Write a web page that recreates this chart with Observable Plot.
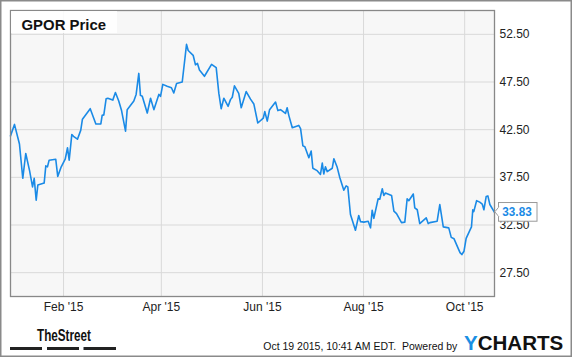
<!DOCTYPE html>
<html><head><meta charset="utf-8">
<script src="https://cdn.jsdelivr.net/npm/d3@7"></script>
<script src="https://cdn.jsdelivr.net/npm/@observablehq/plot@0.6"></script>
<style>
html,body{margin:0;padding:0;background:#fff;}
#chart{width:575px;height:358px;}
</style></head><body><div id="chart"></div>
<script>
// Days since 2015-01-01 and GPOR closing price
const days = [-1,1.4,4.4,6.4,8.2,10.5,12.3,13.3,14.5,15.5,19.3,20.3,21.3,22.3,26.3,27.5,29.6,32.0,33.4,34.4,
  36.0,37.0,39.4,41.4,42.4,47.1,50.5,53.5,54.3,55.3,56.7,57.7,60.7,62.3,64.3,66.0,68.4,69.4,73.4,74.8,
  76.4,77.4,78.5,81.5,83.5,85.5,88.5,89.5,90.9,93.5,96.1,97.5,99.2,102.6,105.2,106.2,109.2,110.6,111.8,113.0,
  116.0,120.3,123.1,124.7,126.1,127.7,130.3,131.7,132.8,134.1,136.7,138.2,141.2,143.8,145.8,148.2,151.5,152.4,153.9,155.3,
  158.9,160.3,161.9,164.9,165.9,166.9,169.0,172.9,174.0,175.4,176.6,179.0,180.4,181.4,184.0,186.0,187.1,188.0,189.0,190.1,
  193.1,194.1,196.1,197.7,200.1,201.5,202.5,204.1,207.1,209.1,210.2,212.2,214.8,216.2,217.2,218.2,220.8,221.8,223.3,224.2,
  225.2,228.9,230.3,231.9,234.9,236.9,238.3,239.3,242.0,242.9,244.4,245.9,249.8,251.0,252.0,256.4,258.0,260.1,263.4,264.9,
  266.6,270.2,271.3,272.6,273.9,277.1,277.9,278.5,280.2,282.1,283.6,284.6,286.0,287.0,288.2,291.0];
const prices = [41.85,43.05,41.0,37.4,40.0,38.2,36.5,37.4,35.1,36.7,36.9,38.7,38.6,39.3,39.4,37.6,38.6,39.4,40.6,39.3,
  42.0,41.8,41.5,42.45,43.6,44.7,43.1,43.1,44.0,44.05,45.75,45.8,45.6,46.4,45.5,44.5,42.35,44.6,45.5,46.2,
  48.4,46.1,46.0,44.25,45.8,44.6,46.2,46.0,47.25,47.05,46.9,46.35,47.35,47.5,51.45,50.8,50.3,49.3,49.45,48.75,
  48.1,49.35,49.0,46.3,44.7,45.8,44.95,45.65,45.9,47.1,46.3,44.8,46.5,45.7,45.2,43.2,43.7,44.4,43.4,44.6,
  45.4,44.5,44.6,44.2,44.8,44.0,42.7,42.95,42.6,40.8,40.7,39.55,40.25,38.45,38.2,37.8,39.0,37.85,38.6,38.1,
  38.45,39.45,38.55,37.45,36.15,36.6,36.5,33.6,31.95,33.5,32.85,32.8,32.9,32.2,34.05,33.2,35.25,35.2,36.3,35.6,
  35.85,35.6,33.95,33.7,32.75,32.8,35.25,35.05,35.75,34.3,34.1,32.65,33.25,32.65,32.75,32.9,34.65,32.3,32.2,31.2,
  31.05,29.6,29.4,29.75,31.1,32.3,34.1,33.9,35.05,34.9,34.7,34.1,35.5,35.55,34.65,33.83];
const yTicks = [27.5, 32.5, 37.5, 42.5, 47.5, 52.5];
const xTickDates = ["2015-02-01", "2015-04-01", "2015-06-01", "2015-08-01", "2015-10-01"];
const xDomain = ["2014-12-31", "2015-10-19"];
const yDomain = [25, 55];
const titleText = "GPOR Price";
const footerText = "Oct 19 2015, 10:41 AM EDT.  Powered by";
const brandLeft = "TheStreet";
const brandRight = ["Y", "CHARTS"];

const FONT = "'Liberation Sans', Arial, Helvetica, sans-serif";
const BLUE = "#1a8ae6";
const data = days.map((d, i) => ({date: new Date(Date.UTC(2015, 0, 1) + d * 864e5), price: prices[i]}));
const xTicks = xTickDates.map(s => new Date(s + "T00:00:00Z"));

const plot = Plot.plot({
  width: 575, height: 358,
  marginLeft: 10, marginRight: 81, marginTop: 10, marginBottom: 62,
  style: {fontFamily: FONT, fontSize: "12px", background: "#fff", color: "#222"},
  x: {type: "utc", domain: xDomain.map(s => new Date(s + "T00:00:00Z"))},
  y: {domain: yDomain},
  marks: [
    Plot.frame({fill: "#f7f7f7"}),
    Plot.gridX(xTicks, {stroke: "#d9d9d9", strokeOpacity: 1}),
    Plot.gridY(yTicks, {stroke: "#d9d9d9", strokeOpacity: 1}),
    Plot.axisX(xTicks, {tickSize: 0, tickPadding: 6, tickFormat: d3.utcFormat("%b '%y"), label: null, fontSize: 12, fill: "#222"}),
    Plot.axisY(yTicks, {anchor: "right", tickSize: 0, tickPadding: 5, tickFormat: d3.format(".2f"), label: null, fontSize: 12, fill: "#222"}),
    Plot.line(data, {x: "date", y: "price", stroke: BLUE, strokeWidth: 1.6}),
    Plot.frame({stroke: "#888", strokeWidth: 1.3})
  ]
});

const svg = d3.select(plot);
function addText(x, y, str, opts) {
  const t = svg.append("text").attr("x", x).attr("y", y).attr("text-anchor", "start")
    .attr("font-family", FONT).attr("font-size", opts.size).attr("fill", opts.fill || "#111");
  if (opts.bold) t.attr("font-weight", "bold");
  if (opts.len) t.attr("textLength", opts.len).attr("lengthAdjust", "spacingAndGlyphs");
  t.style("white-space", "pre");
  if (str !== null) t.text(str);
  return t;
}
// outer border
svg.append("rect").attr("x", 0.75).attr("y", 0.75).attr("width", 570.5).attr("height", 355.5)
  .attr("fill", "none").attr("stroke", "#8a8a8a").attr("stroke-width", 1.5);
// title box
svg.append("rect").attr("x", 11).attr("y", 11).attr("width", 106).attr("height", 22)
  .attr("fill", "#fff").attr("fill-opacity", 0.85);
addText(21.5, 29.5, titleText, {size: 15, bold: true, len: 84.5});

// last value label
const xs = plot.scale("x"), ys = plot.scale("y");
const last = data[data.length - 1];
const px = xs.apply(last.date), py = ys.apply(last.price);
const g = svg.append("g");
g.append("rect").attr("x", px + 4.5).attr("y", py - 9.3).attr("width", 38.5).attr("height", 18.7)
  .attr("fill", "#fff").attr("stroke", "#9a9a9a").attr("stroke-width", 1);
g.append("path").attr("d", `M${px + 5},${py - 5} L${px + 0.8},${py} L${px + 5},${py + 5}`)
  .attr("fill", "#fff").attr("stroke", "#9a9a9a").attr("stroke-width", 1);
g.append("rect").attr("x", px + 4.5).attr("y", py - 4.4).attr("width", 1.2).attr("height", 8.8).attr("fill", "#fff");
addText(px + 8.3, py + 4.4, last.price.toFixed(2), {size: 12, bold: true, fill: BLUE, len: 29.4});

// footer: TheStreet
addText(37, 341, brandLeft, {size: 17, bold: true, len: 54});
[[10, 32], [47, 32], [83.5, 32.5]].forEach(([x, w]) =>
  svg.append("rect").attr("x", x).attr("y", 347).attr("width", w).attr("height", 3).attr("fill", "#222"));

// footer: timestamp + YCHARTS
addText(263.3, 349.5, footerText, {size: 10.5, len: 194});
const logo = addText(464, 349.7, null, {size: 21, bold: true, len: 99.3});
logo.append("tspan").attr("fill", "#1a8fe3").text(brandRight[0]);
logo.append("tspan").attr("fill", "#111").text(brandRight[1]);

document.getElementById("chart").appendChild(plot);
</script></body></html>
